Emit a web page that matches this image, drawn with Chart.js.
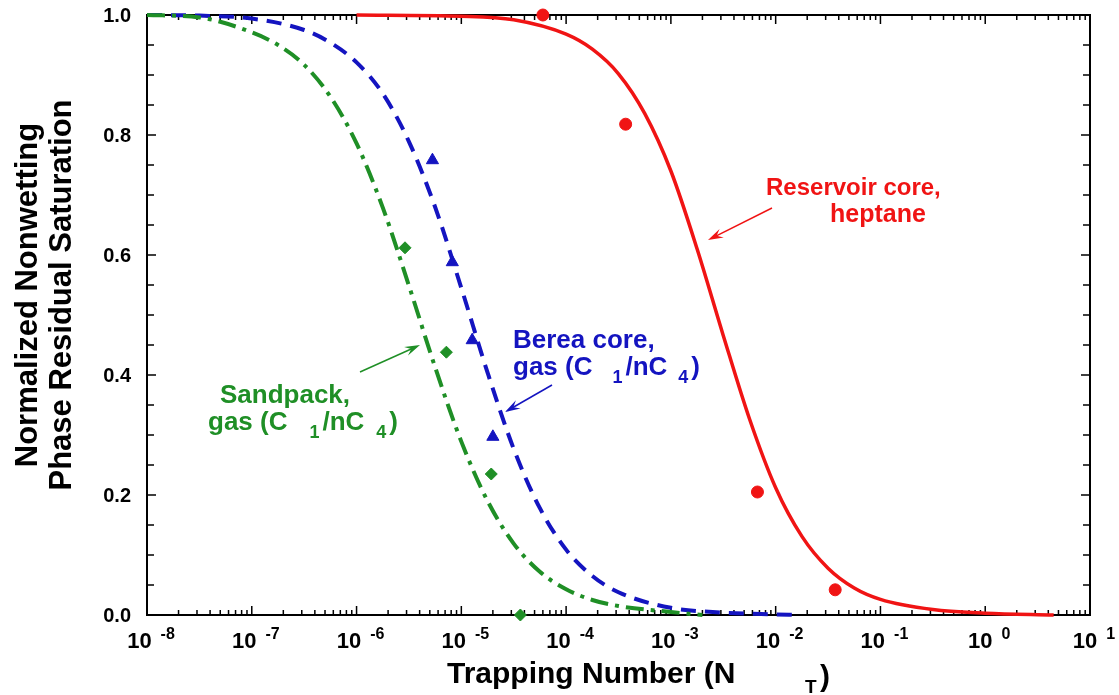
<!DOCTYPE html>
<html>
<head>
<meta charset="utf-8">
<script src="https://cdn.jsdelivr.net/npm/chart.js@4/dist/chart.umd.min.js"></script>
<style>
  body { margin: 0; background: #fff; }
  #wrap { width: 1119px; height: 695px; }
</style>
</head>
<body>
<div id="wrap"><canvas id="chart" width="1119" height="695"></canvas></div>
<script>
// Trapping number curves (x = trapping number, y = normalized residual saturation)
const reservoirX = [1e-6, 1e-5, 3.16e-5, 1e-4, 1.78e-4, 3.16e-4, 5.62e-4, 1e-3, 1.78e-3, 3.16e-3, 5.62e-3, 1e-2, 1.78e-2, 3.16e-2, 5.62e-2, 0.1, 0.316, 1, 4.5];
const reservoirY = [1.0, 0.998, 0.992, 0.968, 0.943, 0.902, 0.836, 0.74, 0.61, 0.466, 0.327, 0.212, 0.131, 0.078, 0.045, 0.026, 0.009, 0.003, 0.0];

const bereaX = [1e-8, 3.16e-8, 1e-7, 3.16e-7, 5.62e-7, 1e-6, 1.78e-6, 3.16e-6, 5.62e-6, 1e-5, 1.78e-5, 3.16e-5, 5.62e-5, 1e-4, 1.78e-4, 3.16e-4, 1e-3, 3.16e-3, 1e-2, 1.6e-2];
const bereaY = [1.0, 0.999, 0.994, 0.975, 0.954, 0.921, 0.869, 0.789, 0.68, 0.545, 0.404, 0.277, 0.178, 0.109, 0.065, 0.038, 0.012, 0.004, 0.001, 0.0];

const sandX = [1e-8, 3.16e-8, 1e-7, 1.78e-7, 3.16e-7, 5.62e-7, 1e-6, 1.78e-6, 3.16e-6, 5.62e-6, 1e-5, 1.78e-5, 3.16e-5, 5.62e-5, 1e-4, 1.78e-4, 3.16e-4, 1e-3, 2e-3];
const sandY = [1.0, 0.996, 0.971, 0.95, 0.917, 0.864, 0.786, 0.679, 0.549, 0.413, 0.289, 0.19, 0.119, 0.072, 0.043, 0.025, 0.015, 0.005, 0.0];

// measured points
const reservoirPtsX = [6e-5, 3.7e-4, 6.7e-3, 3.7e-2];
const reservoirPtsY = [1.0, 0.818, 0.205, 0.042];
const bereaPtsX = [5.3e-6, 8.2e-6, 1.27e-5, 2.0e-5];
const bereaPtsY = [0.758, 0.588, 0.458, 0.297];
const sandPtsX = [2.9e-6, 7.2e-6, 1.93e-5, 3.66e-5];
const sandPtsY = [0.612, 0.438, 0.235, 0.0];

// axis tick labels
const xTickExponents = [-8, -7, -6, -5, -4, -3, -2, -1, 0, 1];
const yTickValues = [0.0, 0.2, 0.4, 0.6, 0.8, 1.0];

const RED = '#f01414';
const BLUE = '#1414c0';
const GREEN = '#1f8f26';
const FONT = '"Liberation Sans", Arial, sans-serif';

const pts = (xs, ys) => xs.map((x, i) => ({ x, y: ys[i] }));

function curve(xs, ys, color, dash, width) {
    return {
        data: pts(xs, ys), showLine: true, borderColor: color, borderWidth: width,
        borderDash: dash, pointRadius: 0, cubicInterpolationMode: 'monotone', fill: false
    };
}
function marks(xs, ys, color, style, r) {
    return {
        data: pts(xs, ys), showLine: false, pointStyle: style, pointRadius: r,
        backgroundColor: color, borderColor: color, borderWidth: 1
    };
}

// frame with inward ticks on all four sides
const framePlugin = {
    id: 'frame',
    beforeDatasetsDraw(chart) {
        const { ctx, chartArea: a, scales: { x, y } } = chart;
        ctx.save();
        ctx.strokeStyle = '#000';
        ctx.lineWidth = 2;
        ctx.strokeRect(a.left, a.top, a.right - a.left, a.bottom - a.top);
        ctx.lineWidth = 1.5;
        ctx.beginPath();
        for (let e = -8; e <= 1; e++) {
            for (let k = 1; k <= 9; k++) {
                if (e === 1 && k > 1) break;
                const px = x.getPixelForValue(k * Math.pow(10, e));
                const len = k === 1 ? 9 : 5;
                ctx.moveTo(px, a.bottom); ctx.lineTo(px, a.bottom - len);
                ctx.moveTo(px, a.top); ctx.lineTo(px, a.top + len);
            }
        }
        for (let i = 0; i <= 20; i++) {
            const py = y.getPixelForValue(i * 0.05);
            const len = i % 4 === 0 ? 9 : 7;
            ctx.moveTo(a.left, py); ctx.lineTo(a.left + len, py);
            ctx.moveTo(a.right, py); ctx.lineTo(a.right - len, py);
        }
        ctx.stroke();
        ctx.restore();
    }
};

// annotation text + arrows
const notes = [
    { color: RED, arrow: [772, 208, 708, 240], lines: [
        { x: 766, y: 195, parts: [['Reservoir core,', 24, 0, 0]] },
        { x: 830, y: 222, parts: [['heptane', 25, 0, 0]] }
    ] },
    { color: BLUE, arrow: [552, 385, 505, 412], lines: [
        { x: 513, y: 348, parts: [['Berea core,', 26, 0, 0]] },
        { x: 513, y: 375, parts: [['gas (C', 26, 0, 0], ['1', 18, 8, 20], ['/nC', 26, 0, 3], ['4', 18, 8, 11], [')', 26, 0, 3]] }
    ] },
    { color: GREEN, arrow: [360, 372, 420, 345], lines: [
        { x: 220, y: 403, parts: [['Sandpack,', 26, 0, 0]] },
        { x: 208, y: 430, parts: [['gas (C', 26, 0, 0], ['1', 18, 8, 22], ['/nC', 26, 0, 3], ['4', 18, 8, 12], [')', 26, 0, 3]] }
    ] }
];

function drawArrow(ctx, x1, y1, x2, y2, color) {
    const ang = Math.atan2(y2 - y1, x2 - x1);
    ctx.strokeStyle = color; ctx.fillStyle = color; ctx.lineWidth = 1.5;
    ctx.beginPath(); ctx.moveTo(x1, y1); ctx.lineTo(x2 - 6 * Math.cos(ang), y2 - 6 * Math.sin(ang)); ctx.stroke();
    const L = 16, W = 0.3;
    ctx.beginPath();
    ctx.moveTo(x2, y2);
    ctx.lineTo(x2 - L * Math.cos(ang - W), y2 - L * Math.sin(ang - W));
    ctx.lineTo(x2 - 0.6 * L * Math.cos(ang), y2 - 0.6 * L * Math.sin(ang));
    ctx.lineTo(x2 - L * Math.cos(ang + W), y2 - L * Math.sin(ang + W));
    ctx.closePath(); ctx.fill();
}

function drawParts(ctx, x, y, parts) {
    let cx = x;
    parts.forEach(([t, size, dy, gap]) => {
        cx += gap;
        ctx.font = `bold ${size}px ${FONT}`;
        ctx.fillText(t, cx, y + dy);
        cx += ctx.measureText(t).width;
    });
}

const textPlugin = {
    id: 'texts',
    afterDraw(chart) {
        const { ctx, scales: { x, y } } = chart;
        ctx.save();
        ctx.fillStyle = '#000';
        ctx.textBaseline = 'alphabetic';
        ctx.textAlign = 'left';

        // x tick labels 10^e
        xTickExponents.forEach(e => {
            const px = x.getPixelForValue(Math.pow(10, e));
            ctx.font = `bold 22px ${FONT}`;
            const w1 = ctx.measureText('10').width;
            ctx.font = `bold 16px ${FONT}`;
            const w2 = ctx.measureText(String(e)).width;
            const left = px + 4 - (w1 + 9 + w2) / 2;
            ctx.font = `bold 22px ${FONT}`;
            ctx.fillText('10', left, 648);
            ctx.font = `bold 16px ${FONT}`;
            ctx.fillText(String(e), left + w1 + 9, 639);
        });

        // y tick labels
        ctx.font = `bold 20px ${FONT}`;
        ctx.textAlign = 'right';
        ctx.textBaseline = 'middle';
        yTickValues.forEach(v => ctx.fillText(v.toFixed(1), 131, y.getPixelForValue(v) + 1));

        // x axis title
        ctx.textAlign = 'left';
        ctx.textBaseline = 'alphabetic';
        ctx.font = `bold 30px ${FONT}`;
        ctx.fillText('Trapping Number (N', 447, 683);
        ctx.font = `bold 19px ${FONT}`;
        ctx.fillText('T', 805, 693);
        ctx.font = `bold 30px ${FONT}`;
        ctx.fillText(')', 820, 686);

        // y axis title
        ctx.save();
        ctx.translate(0, 295);
        ctx.rotate(-Math.PI / 2);
        ctx.textAlign = 'center';
        ctx.font = `bold 31px ${FONT}`;
        ctx.fillText('Normalized Nonwetting', 0, 37);
        ctx.fillText('Phase Residual Saturation', 0, 71);
        ctx.restore();

        // annotations
        notes.forEach(n => {
            ctx.fillStyle = n.color;
            n.lines.forEach(l => drawParts(ctx, l.x, l.y, l.parts));
            drawArrow(ctx, ...n.arrow, n.color);
        });
        ctx.restore();
    }
};

new Chart(document.getElementById('chart').getContext('2d'), {
    type: 'scatter',
    data: {
        datasets: [
            curve(sandX, sandY, GREEN, [18, 7, 4, 7], 4),
            curve(bereaX, bereaY, BLUE, [15, 9], 4),
            curve(reservoirX, reservoirY, RED, [], 3.5),
            marks(reservoirPtsX, reservoirPtsY, RED, 'circle', 6),
            marks(bereaPtsX, bereaPtsY, BLUE, 'triangle', 7),
            marks(sandPtsX, sandPtsY, GREEN, 'rectRot', 6)
        ]
    },
    options: {
        responsive: false,
        animation: false,
        devicePixelRatio: 1,
        clip: false,
        layout: { padding: { top: 15, right: 29, left: 0, bottom: 0 } },
        plugins: { legend: { display: false }, tooltip: { enabled: false } },
        scales: {
            x: {
                type: 'logarithmic', min: 1e-8, max: 10,
                ticks: { display: false }, grid: { display: false }, border: { display: false },
                afterFit: s => { s.height = 80; }
            },
            y: {
                min: 0, max: 1,
                ticks: { display: false }, grid: { display: false }, border: { display: false },
                afterFit: s => { s.width = 147; }
            }
        }
    },
    plugins: [framePlugin, textPlugin]
});
</script>
</body>
</html>
